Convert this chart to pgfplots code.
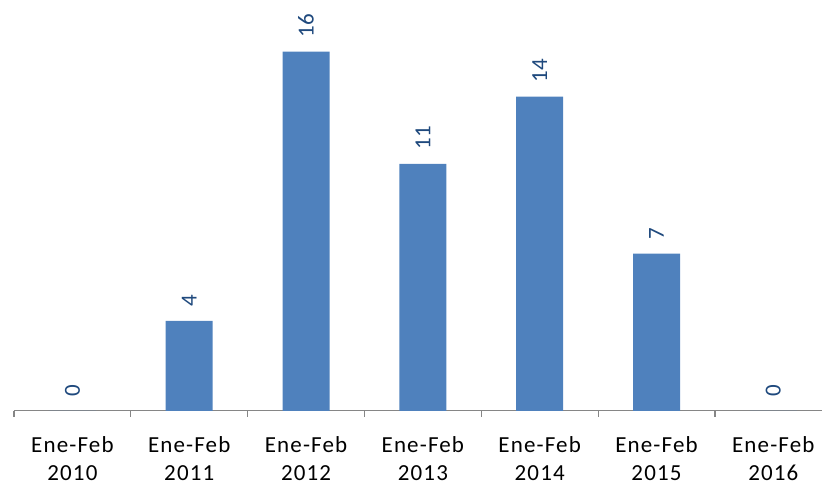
\documentclass[border=0pt]{standalone}
\usepackage{fontspec}
\setmainfont{Carlito}
\usepackage{pgfplots}
\pgfplotsset{compat=1.18}
\definecolor{barblue}{HTML}{4F81BD}
\definecolor{lblblue}{HTML}{1F497D}
\definecolor{axgray}{HTML}{868686}
\begin{document}
\begin{tikzpicture}
\begin{axis}[
  scale only axis, width=404.5pt, height=205.5pt,
  xmin=-0.5, xmax=6.42, ymin=0, ymax=18.3,
  axis x line*=bottom, axis y line=none,
  x axis line style={draw=axgray, line width=0.6pt},
  /pgf/number format/assume math mode=true,
  xtick={0,1,2,3,4,5,6},
  xticklabels={{Ene-Feb\\2010},{Ene-Feb\\2011},{Ene-Feb\\2012},{Ene-Feb\\2013},{Ene-Feb\\2014},{Ene-Feb\\2015},{Ene-Feb\\2016}},
  minor xtick={-0.5,0.5,1.5,2.5,3.5,4.5,5.5},
  tick align=outside,
  major tick length=0pt, minor tick length=3pt,
  minor tick style={draw=axgray, line width=0.6pt},
  major tick style={draw=none},
  xticklabel style={align=center, anchor=north, inner sep=0pt, yshift=-12.5pt,
    font=\fontsize{11.5}{14}\selectfont\addfontfeature{LetterSpace=5}, text=black},
]
\addplot[ybar, bar width=23.5pt, fill=barblue, draw=none,
  nodes near coords,
  every node near coord/.append style={rotate=90, anchor=west, inner xsep=7pt, inner ysep=0pt,
    font=\fontsize{11.5}{13}\selectfont, text=lblblue}]
  coordinates {(0,0) (1,4) (2,16) (3,11) (4,14) (5,7) (6,0)};
\end{axis}
\path[use as bounding box] (-7pt,-36.5pt) rectangle (404.5pt,205.5pt);
\end{tikzpicture}
\end{document}
